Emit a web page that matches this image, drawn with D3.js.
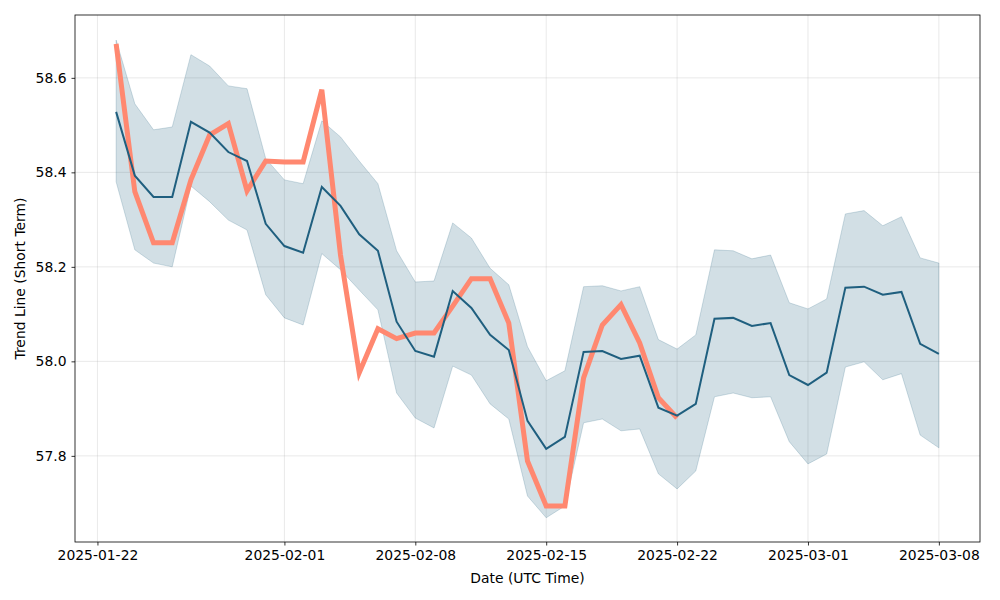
<!DOCTYPE html>
<html><head><meta charset="utf-8">
<script src="https://cdn.jsdelivr.net/npm/d3@7"></script>
<style>body{margin:0;background:#fff}svg{display:block}text{font-family:"DejaVu Sans",sans-serif}</style>
</head><body>
<script>
const startDate = "2025-01-23";
const actual = [58.672,58.359,58.251,58.251,58.384,58.479,58.503,58.361,58.424,58.422,58.422,58.575,58.225,57.976,58.069,58.048,58.060,58.060,58.117,58.175,58.175,58.081,57.789,57.694,57.694,57.965,58.077,58.120,58.039,57.923,57.880];
const trend = [58.528,58.393,58.348,58.348,58.507,58.484,58.443,58.424,58.291,58.244,58.230,58.369,58.329,58.269,58.234,58.084,58.022,58.010,58.149,58.113,58.056,58.024,57.874,57.815,57.840,58.020,58.022,58.005,58.012,57.902,57.885,57.910,58.090,58.092,58.075,58.081,57.971,57.950,57.976,58.156,58.158,58.141,58.147,58.037,58.016];
const upper = [58.680,58.545,58.490,58.496,58.649,58.625,58.583,58.577,58.429,58.384,58.376,58.509,58.475,58.424,58.376,58.234,58.168,58.170,58.293,58.261,58.197,58.162,58.031,57.959,57.980,58.158,58.160,58.149,58.158,58.046,58.026,58.056,58.236,58.234,58.217,58.225,58.124,58.111,58.132,58.312,58.319,58.287,58.306,58.219,58.208];
const lower = [58.380,58.236,58.208,58.200,58.371,58.338,58.299,58.278,58.141,58.092,58.077,58.228,58.194,58.151,58.109,57.933,57.880,57.859,57.990,57.971,57.910,57.878,57.715,57.669,57.694,57.870,57.878,57.853,57.857,57.762,57.730,57.768,57.925,57.933,57.923,57.925,57.830,57.783,57.804,57.988,57.999,57.961,57.974,57.844,57.817];
const xTickLabels = ["2025-01-22","2025-02-01","2025-02-08","2025-02-15","2025-02-22","2025-03-01","2025-03-08"];
const yTickValues = [57.8,58.0,58.2,58.4,58.6];
const xTitle = "Date (UTC Time)";
const yTitle = "Trend Line (Short Term)";

const W=1000,H=600, L=75,R=980,T=15,B=542;
const DAY=86400000;
const t0 = new Date(startDate+"T00:00:00Z").getTime();
const dates = trend.map((_,i)=>new Date(t0+i*DAY));

const svg=d3.select("body").append("svg").attr("width",W).attr("height",H);
const x=d3.scaleUtc().domain([new Date(t0-2.2*DAY), new Date(t0+46.2*DAY)]).range([L,R]);
const y=d3.scaleLinear().domain([57.6177,58.7330]).range([B,T]);

const xTicks = xTickLabels.map(s=>new Date(s+"T00:00:00Z"));

// grid
const g=svg.append("g");
g.selectAll(".gx").data(xTicks).join("line").attr("x1",d=>x(d)).attr("x2",d=>x(d)).attr("y1",T).attr("y2",B)
 .attr("stroke","#b0b0b0").attr("stroke-opacity",0.35).attr("stroke-width",0.8);
g.selectAll(".gy").data(yTickValues).join("line").attr("x1",L).attr("x2",R).attr("y1",d=>y(d)).attr("y2",d=>y(d))
 .attr("stroke","#b0b0b0").attr("stroke-opacity",0.35).attr("stroke-width",0.8);

// band
const area=d3.area().x((d,i)=>x(dates[i])).y0((d,i)=>y(lower[i])).y1((d,i)=>y(upper[i]));
svg.append("path").datum(trend).attr("d",area).attr("fill","#1f5f7f").attr("fill-opacity",0.2)
 .attr("stroke","#1f5f7f").attr("stroke-opacity",0.2).attr("stroke-width",1);

// actual
const line=d3.line().x((d,i)=>x(dates[i])).y(d=>y(d));
svg.append("path").datum(actual).attr("d",line).attr("fill","none").attr("stroke","#ff8870").attr("stroke-width",5).attr("stroke-linejoin","miter").attr("stroke-linecap","butt");
// trend
svg.append("path").datum(trend).attr("d",line).attr("fill","none").attr("stroke","#1f5f7f").attr("stroke-width",2);

// axes
const xa=svg.append("g").attr("transform",`translate(0,${B})`)
 .call(d3.axisBottom(x).tickValues(xTicks).tickFormat((d,i)=>xTickLabels[i]).tickSize(3.5).tickPadding(5));
const ya=svg.append("g").attr("transform",`translate(${L},0)`)
 .call(d3.axisLeft(y).tickValues(yTickValues).tickFormat(d3.format(".1f")).tickSize(3.5).tickPadding(5));
[xa,ya].forEach(a=>{a.select(".domain").remove();a.selectAll("text").attr("font-size","13.9px").attr("fill","#000").attr("font-family","DejaVu Sans");a.selectAll("line").attr("stroke","#000").attr("stroke-width",0.8);});

svg.append("rect").attr("x",L).attr("y",T).attr("width",R-L).attr("height",B-T).attr("fill","none").attr("stroke","#000").attr("stroke-width",0.8);

svg.append("text").attr("x",(L+R)/2).attr("y",583).attr("text-anchor","middle").attr("font-size","13.9px").text(xTitle);
svg.append("text").attr("transform",`translate(25,${(T+B)/2}) rotate(-90)`).attr("text-anchor","middle").attr("font-size","13.9px").text(yTitle);
</script>
</body></html>
